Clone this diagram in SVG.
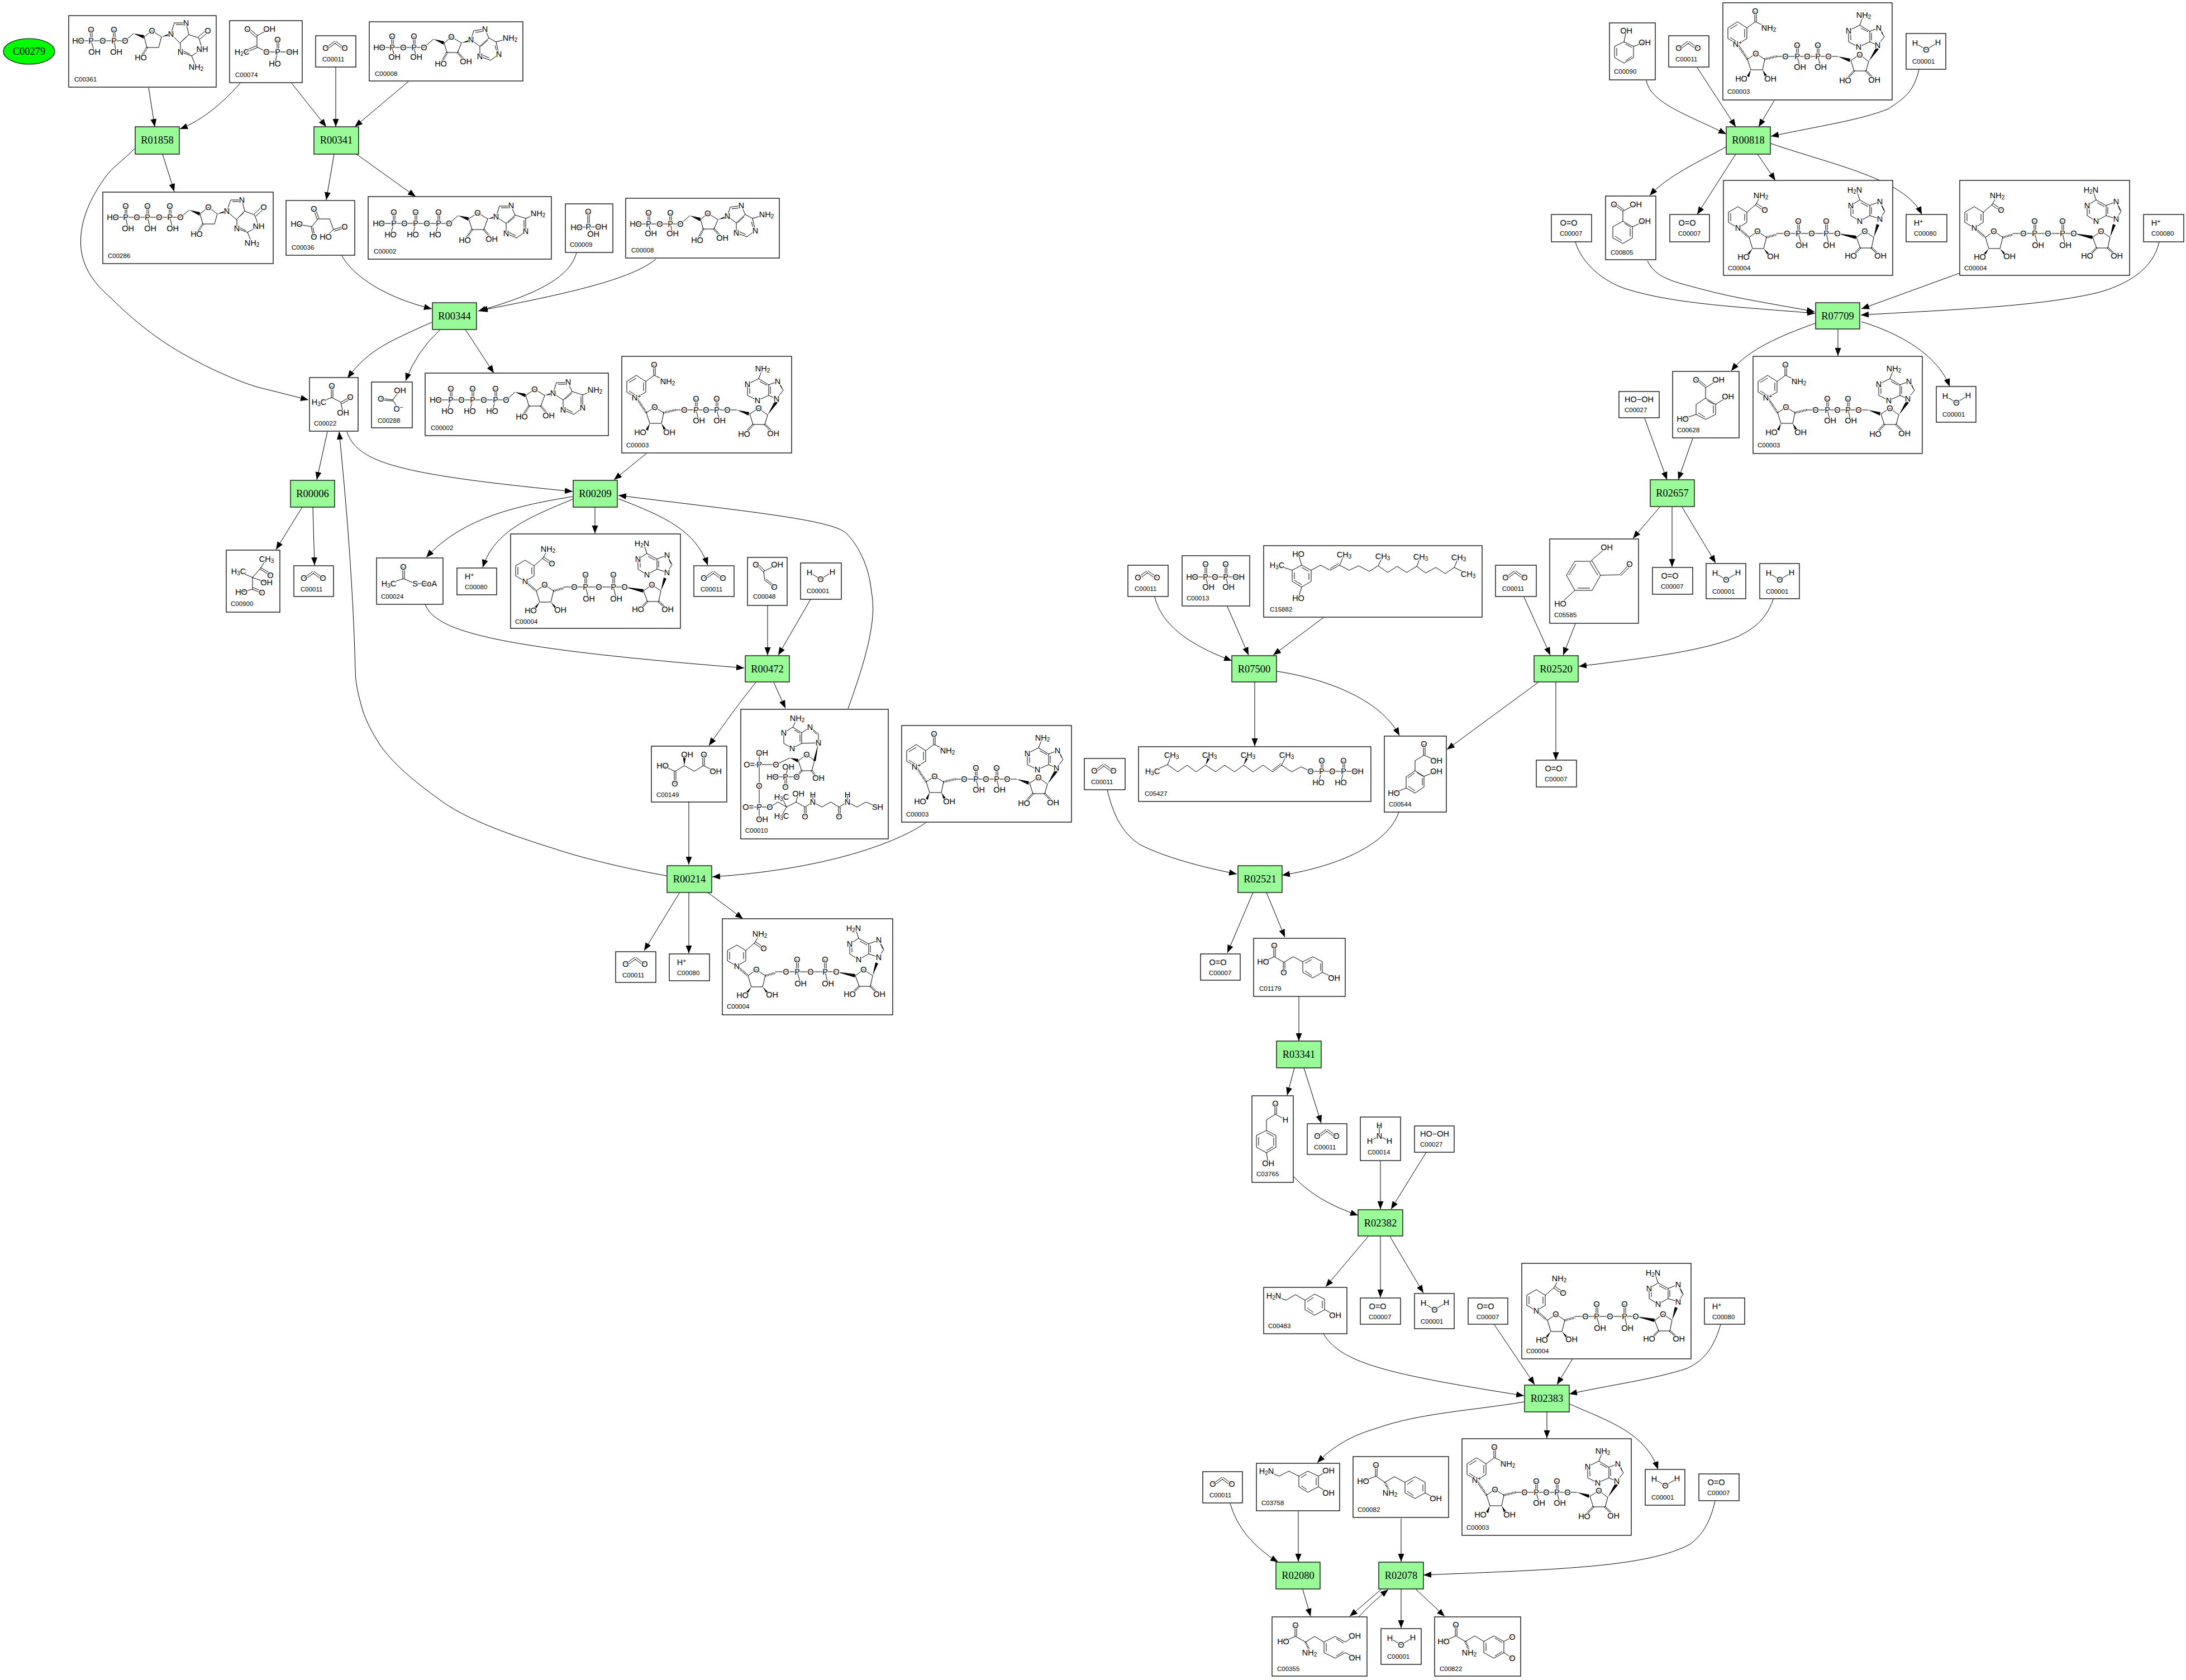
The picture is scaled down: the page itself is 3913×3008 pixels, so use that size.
<svg xmlns="http://www.w3.org/2000/svg" width="3913" height="3008" viewBox="0 0 3913 3008">
<style>
.bg{fill:#fff}
.e path{fill:none;stroke:#000;stroke-width:1;marker-end:url(#arr)}
.r rect{fill:#98fb98;stroke:#000;stroke-width:1.3}
.r text,.o text{font:18.5px "Liberation Serif",serif;text-anchor:middle;fill:#000}
.o ellipse{fill:#0f0;stroke:#000;stroke-width:1.2}
.c rect{fill:#fff;stroke:#000;stroke-width:1.3}
.c>text{font:11.5px "Liberation Sans",sans-serif;fill:#000}
.m path{fill:none;stroke:#000;stroke-width:1}
.m path.h{stroke-width:4;stroke-dasharray:1 1.6}
.m polygon{fill:#000}
.m text{font:14.5px "Liberation Sans",sans-serif;text-anchor:middle;dominant-baseline:central;fill:#000;paint-order:stroke;stroke:#fff;stroke-width:2.5px}
.m tspan{font-size:10px}
</style>
<defs>
<marker id="arr" markerUnits="userSpaceOnUse" markerWidth="14" markerHeight="11" refX="14" refY="5.5" orient="auto"><path d="M0 0L14 5.5L0 11Z" fill="#000"/></marker>
<g id="s-nad" class="m">
<path d="M57 15V34M60 15V34M58 34L43 45M58 34L82 45M26 34L43 45V64L26 74L9 64V45ZM13 47L26 39M39 47V62M13 62L24 69M59 91L44 101L50 120H71L75 101ZM96 96H206M132 76V96M135 76V96M133 96L138 115M169 76V96M172 76V96M170 96L175 115M245 93L229 103L235 122H256L261 105ZM277 76L289 61L279 45L263 51V70L277 76M263 70L243 79L225 70V50L245 40L263 51M245 40L252 22M229 53V67M247 45L260 52M266 54V67M283 48L287 58"/>
<path class="h" d="M26 74L44 101M75 101L96 96M235 122L224 134M256 122L268 134"/>
<polygon points="50,120 43,131 47,133"/><polygon points="71,120 75,132 79,130"/><polygon points="206,96 228,100 227,106"/><polygon points="261,105 274,80 279,83"/>
<text x="58" y="15">O</text><text x="82" y="45">NH<tspan dy="3">2</tspan></text><text x="26" y="74">N<tspan dy="-3">+</tspan></text><text x="59" y="91">O</text><text x="33" y="136">HO</text><text x="85" y="136">OH</text><text x="112" y="96">O</text><text x="133" y="96">P</text><text x="151" y="96">O</text><text x="170" y="96">P</text><text x="189" y="96">O</text><text x="133" y="76">O</text><text x="138" y="115">OH</text><text x="170" y="76">O</text><text x="175" y="115">OH</text><text x="245" y="93">O</text><text x="219" y="139">HO</text><text x="271" y="138">OH</text><text x="277" y="76">N</text><text x="279" y="45">N</text><text x="243" y="79">N</text><text x="225" y="50">N</text><text x="252" y="22">NH<tspan dy="3">2</tspan></text>
</g>
<g id="s-nadh" class="m">
<path d="M67 27L58 43M57 44L73 55M59 41L75 52M58 43L42 57M42 57L26 47L9 57V75L26 85L42 75ZM13 59V73M38 60V72M61 91L46 102L52 122H72L77 102ZM95 95H204M133 73V95M136 73V95M183 73V95M186 73V95M134 95L140 116M184 95L189 116M253 91L238 102L245 121H265L269 102ZM280 69L289 55L280 38L262 45V63L280 69M262 63L244 73L228 63V45L244 35L262 45M244 35L238 17M232 48V60M246 40L259 47M265 48V60M282 42L287 54"/>
<path class="h" d="M26 85L46 102M77 102L95 97M245 121L234 132M265 121L277 132"/>
<polygon points="52,122 41,133 45,135"/><polygon points="72,122 83,132 80,135"/><polygon points="204,95 238,99 237,105"/><polygon points="269,102 274,78 279,80"/>
<text x="67" y="27">NH<tspan dy="3">2</tspan></text><text x="74" y="53">O</text><text x="26" y="85">N</text><text x="61" y="91">O</text><text x="36" y="137">HO</text><text x="89" y="136">OH</text><text x="114" y="95">O</text><text x="134" y="95">P</text><text x="158" y="95">O</text><text x="184" y="95">P</text><text x="204" y="95">O</text><text x="134" y="73">O</text><text x="140" y="116">OH</text><text x="184" y="73">O</text><text x="189" y="116">OH</text><text x="253" y="91">O</text><text x="228" y="135">HO</text><text x="281" y="135">OH</text><text x="280" y="69">N</text><text x="280" y="38">N</text><text x="244" y="73">N</text><text x="228" y="45">N</text><text x="235" y="17">H<tspan dy="3">2</tspan><tspan dy="-3" style="font-size:14.5px">N</tspan></text>
</g>
<g id="s-adp" class="m">
<path d="M18 46H98M98 46L115 31M40 26V46M43 26V46M79 26V46M82 26V46M41 46L45 63M80 46L84 63M147 27L134 38L139 55H158L165 38ZM182 32L187 16L207 13M190 19L205 17M207 13L214 29L198 44L182 32M214 29L227 36L232 58L217 69L198 62V44M212 33L200 44M227 36L252 29M225 42L229 56M204 60L215 65"/>
<path class="h" d="M139 55L130 72M158 55L170 68"/>
<polygon points="115,31 134,35 133,41"/><polygon points="165,38 182,31 183,35"/>
<text x="18" y="46">HO</text><text x="41" y="46">P</text><text x="61" y="46">O</text><text x="80" y="46">P</text><text x="98" y="46">O</text><text x="41" y="26">O</text><text x="80" y="26">O</text><text x="45" y="63">OH</text><text x="84" y="63">OH</text><text x="147" y="27">O</text><text x="128" y="75">HO</text><text x="173" y="71">OH</text><text x="182" y="32">N</text><text x="207" y="13">N</text><text x="252" y="29">NH<tspan dy="3">2</tspan></text><text x="232" y="58">N</text><text x="198" y="62">N</text>
</g>
<g id="s-atp" class="m">
<path d="M19 48H145M145 48L161 34M45 28V48M48 28V48M84 28V48M87 28V48M125 28V48M128 28V48M46 48L40 68M85 48L80 68M126 48L120 68M196 29L180 40L186 59H207L214 40ZM229 36L235 17H256L263 33L247 48L229 36M238 20H254M263 33L282 39V62L266 74L247 66V48M263 36L250 47M279 42V60M252 64L264 70M282 39L304 30"/>
<path class="h" d="M186 59L176 74M207 59L218 72"/>
<polygon points="161,34 180,37 179,43"/><polygon points="214,40 229,34 230,38"/>
<text x="19" y="48">HO</text><text x="46" y="48">P</text><text x="65" y="48">O</text><text x="85" y="48">P</text><text x="105" y="48">O</text><text x="126" y="48">P</text><text x="145" y="48">O</text><text x="46" y="28">O</text><text x="85" y="28">O</text><text x="126" y="28">O</text><text x="40" y="68">HO</text><text x="80" y="68">HO</text><text x="120" y="68">HO</text><text x="196" y="29">O</text><text x="173" y="78">HO</text><text x="221" y="76">OH</text><text x="229" y="36">N</text><text x="256" y="16">N</text><text x="304" y="30">NH<tspan dy="3">2</tspan></text><text x="282" y="62">N</text><text x="247" y="66">N</text>
</g>
<g id="s-c00361" class="m">
<path d="M17 45H101M101 45L116 32M39 25V45M42 25V45M80 25V45M83 25V45M40 45L46 65M81 45L85 65M149 27L135 38L140 57H161L166 38ZM183 33L189 13H210L215 34L199 49L183 33M192 16H208M215 34L233 40L239 60L220 72L200 65V49M232 38L247 25M235 42L250 29M220 72L228 92M212 37L201 47M204 63L217 69"/>
<path class="h" d="M140 57L131 72"/>
<polygon points="116,32 135,35 134,41"/><polygon points="166,38 183,31 184,35"/>
<text x="17" y="45">HO</text><text x="40" y="45">P</text><text x="61" y="45">O</text><text x="81" y="45">P</text><text x="101" y="45">O</text><text x="40" y="25">O</text><text x="81" y="25">O</text><text x="46" y="65">OH</text><text x="85" y="65">OH</text><text x="149" y="27">O</text><text x="129" y="75">HO</text><text x="183" y="33">N</text><text x="210" y="13">N</text><text x="249" y="27">O</text><text x="239" y="60">NH</text><text x="200" y="65">N</text><text x="228" y="92">NH<tspan dy="3">2</tspan></text>
</g>
<g id="s-c00286" class="m">
<path d="M18 45H139M139 45L155 32M40 25V45M43 25V45M79 25V45M82 25V45M119 25V45M122 25V45M41 45L45 65M80 45L85 65M120 45L125 65M189 27L174 39L179 57H200L205 39ZM222 34L229 14H249L254 34L239 49L222 34M232 17H247M254 34L272 41L279 61L259 72L240 65V49M271 39L286 25M274 43L289 29M259 72L267 91M252 37L241 47M244 63L256 69"/>
<path class="h" d="M179 57L170 72"/>
<polygon points="155,32 174,36 173,42"/><polygon points="205,39 222,32 223,36"/>
<text x="18" y="45">HO</text><text x="41" y="45">P</text><text x="61" y="45">O</text><text x="80" y="45">P</text><text x="101" y="45">O</text><text x="120" y="45">P</text><text x="139" y="45">O</text><text x="41" y="25">O</text><text x="80" y="25">O</text><text x="120" y="25">O</text><text x="45" y="65">OH</text><text x="85" y="65">OH</text><text x="125" y="65">OH</text><text x="189" y="27">O</text><text x="168" y="75">HO</text><text x="222" y="34">N</text><text x="249" y="14">N</text><text x="288" y="27">O</text><text x="279" y="61">NH</text><text x="240" y="65">N</text><text x="267" y="91">NH<tspan dy="3">2</tspan></text>
</g>
<g id="s-co2" class="m"><path d="M18 22L34 10M21 24L36 13M52 22L36 10M49 24L34 13"/><text x="18" y="22">O</text><text x="52" y="22">O</text></g>
<g id="s-h2o" class="m"><path d="M16 17L36 29L57 16"/><text x="16" y="17">H</text><text x="36" y="29">O</text><text x="57" y="16">H</text></g>
<g id="s-o2" class="m"><text x="31" y="15">O=O</text></g>
<g id="s-h2o2" class="m"><text x="36" y="14">HO−OH</text></g>
<g id="s-hp" class="m"><text x="22" y="15">H<tspan dy="-3">+</tspan></text></g>
</defs>
<rect class="bg" width="3913" height="3008"/>
<g id="connectors" class="e">
<path d="M266 157L277 227"/>
<path d="M430 149Q376 210 322 231"/>
<path d="M522 149L584 227"/>
<path d="M601 120V227"/>
<path d="M731 146L635 227"/>
<path d="M241 266C222 286 200 300 188 318C165 350 148 385 145 420C140 470 165 505 199 534C240 575 285 610 332 636C375 660 420 680 457 692L552 716"/>
<path d="M291 276L312 343"/>
<path d="M598 276L584 358"/>
<path d="M638 276L744 352"/>
<path d="M612 458C630 490 680 530 773 553"/>
<path d="M1032 452C1020 500 950 530 856 557"/>
<path d="M1174 464C1130 500 1020 525 859 556"/>
<path d="M773 577C700 610 660 625 622 677"/>
<path d="M788 590Q745 630 726 682"/>
<path d="M833 590L884 668"/>
<path d="M586 773L567 859"/>
<path d="M621 773C640 830 720 850 1025 880"/>
<path d="M1157 812L1099 859"/>
<path d="M541 908L494 984"/>
<path d="M560 908L563 1012"/>
<path d="M1025 889C930 905 830 925 763 998"/>
<path d="M1025 894C950 925 885 950 864 1016"/>
<path d="M1065 908V955"/>
<path d="M1107 893C1190 925 1245 950 1267 1012"/>
<path d="M1518 1269C1550 1180 1570 1110 1560 1060C1555 1010 1535 975 1515 955C1490 930 1330 915 1107 887"/>
<path d="M761 1082C780 1130 880 1160 1332 1196"/>
<path d="M1374 1084V1173"/>
<path d="M1451 1073L1393 1173"/>
<path d="M1353 1222C1340 1237 1300 1290 1269 1335"/>
<path d="M1385 1222L1406 1268"/>
<path d="M1233 1436V1548"/>
<path d="M1657 1473C1620 1500 1500 1555 1275 1570"/>
<path d="M1193 1568C1120 1555 1060 1540 1019 1528C930 1500 850 1475 794 1437C750 1405 710 1375 681 1335C665 1310 655 1290 649 1271C640 1240 636 1220 636 1198C632 1050 620 900 607 773"/>
<path d="M1216 1599L1153 1702"/>
<path d="M1233 1598V1707"/>
<path d="M1267 1598L1330 1645"/>
<path d="M2067 1069C2080 1120 2130 1155 2205 1183"/>
<path d="M2197 1086L2235 1173"/>
<path d="M2370 1105L2279 1173"/>
<path d="M2246 1221V1336"/>
<path d="M2286 1202C2370 1215 2470 1250 2505 1317"/>
<path d="M2728 1069L2775 1173"/>
<path d="M2820 1117L2798 1173"/>
<path d="M3174 1073C3160 1115 3130 1130 3110 1140C3050 1165 2950 1178 2826 1193"/>
<path d="M2753 1222L2590 1342"/>
<path d="M2785 1221V1361"/>
<path d="M1982 1414C1995 1470 2015 1495 2040 1512C2085 1535 2150 1552 2214 1565"/>
<path d="M2504 1454C2485 1510 2400 1550 2295 1567"/>
<path d="M2243 1598L2197 1706"/>
<path d="M2267 1598L2300 1678"/>
<path d="M2325 1784V1864"/>
<path d="M2317 1912L2304 1961"/>
<path d="M2334 1912L2365 2011"/>
<path d="M2316 2107Q2355 2150 2431 2176"/>
<path d="M2471 2079V2165"/>
<path d="M2553 2063L2490 2165"/>
<path d="M2449 2214L2373 2304"/>
<path d="M2471 2213V2323"/>
<path d="M2488 2214L2548 2315"/>
<path d="M2369 2388C2400 2440 2480 2460 2728 2499"/>
<path d="M2675 2372L2747 2479"/>
<path d="M2815 2433L2787 2479"/>
<path d="M3080 2371C3065 2425 3040 2440 3020 2450C2960 2470 2880 2480 2809 2496"/>
<path d="M2728 2510C2640 2525 2540 2530 2465 2557C2420 2570 2385 2590 2358 2619"/>
<path d="M2769 2528V2575"/>
<path d="M2810 2514C2880 2545 2945 2565 2968 2631"/>
<path d="M2324 2706V2796"/>
<path d="M2508 2719V2796"/>
<path d="M3070 2688C3060 2730 3045 2750 3025 2765C2950 2805 2800 2810 2548 2820"/>
<path d="M2202 2692Q2220 2755 2288 2797"/>
<path d="M2332 2846L2346 2894"/>
<path d="M2472 2846L2416 2894"/>
<path d="M2432 2895Q2455 2870 2485 2846"/>
<path d="M2508 2845V2915"/>
<path d="M2535 2846L2586 2894"/>
<path d="M2947 144C2955 185 3020 205 3090 240"/>
<path d="M3038 121L3107 227"/>
<path d="M3176 180L3148 227"/>
<path d="M3435 125C3425 165 3410 175 3380 195C3330 215 3260 225 3170 244"/>
<path d="M3090 263C3040 290 2985 315 2953 350"/>
<path d="M3107 276L3038 384"/>
<path d="M3146 276L3178 323"/>
<path d="M3170 257C3280 295 3410 320 3440 384"/>
<path d="M2820 433C2830 470 2870 505 2913 518C3000 545 3120 550 3249 561"/>
<path d="M2949 467C2965 500 3000 505 3047 518C3110 535 3180 545 3248 558"/>
<path d="M3508 489L3332 553"/>
<path d="M3865 433C3855 480 3810 510 3751 525C3640 550 3480 555 3331 564"/>
<path d="M3249 579C3190 600 3130 625 3099 664"/>
<path d="M3290 590V637"/>
<path d="M3332 576C3410 600 3470 640 3490 692"/>
<path d="M2944 749L2984 859"/>
<path d="M3030 785L3004 859"/>
<path d="M2971 908L2923 964"/>
<path d="M2993 908V1015"/>
<path d="M3011 908L3071 1008"/>
</g>
<g id="C00279" class="o"><ellipse cx="52" cy="92" rx="46" ry="23"/><text x="52" y="98">C00279</text></g>
<g id="R01858" class="r"><rect x="242" y="227" width="79" height="49"/><text x="281.5" y="257">R01858</text></g>
<g id="R00341" class="r"><rect x="562" y="227" width="80" height="49"/><text x="602" y="257">R00341</text></g>
<g id="R00344" class="r"><rect x="774" y="542" width="79" height="48"/><text x="813.500" y="572">R00344</text></g>
<g id="R00006" class="r"><rect x="520" y="860" width="79" height="48"/><text x="559.500" y="890">R00006</text></g>
<g id="R00209" class="r"><rect x="1026" y="860" width="79" height="48"/><text x="1065.500" y="890">R00209</text></g>
<g id="R00472" class="r"><rect x="1334" y="1174" width="79" height="47"/><text x="1373.500" y="1204">R00472</text></g>
<g id="R00214" class="r"><rect x="1194" y="1550" width="80" height="48"/><text x="1234" y="1580">R00214</text></g>
<g id="R07500" class="r"><rect x="2205" y="1174" width="80" height="47"/><text x="2245" y="1204">R07500</text></g>
<g id="R02520" class="r"><rect x="2746" y="1174" width="79" height="47"/><text x="2785.500" y="1204">R02520</text></g>
<g id="R02521" class="r"><rect x="2216" y="1550" width="79" height="48"/><text x="2255.500" y="1580">R02521</text></g>
<g id="R03341" class="r"><rect x="2285" y="1864" width="80" height="48"/><text x="2325" y="1894">R03341</text></g>
<g id="R02382" class="r"><rect x="2431" y="2166" width="80" height="47"/><text x="2471" y="2196">R02382</text></g>
<g id="R02383" class="r"><rect x="2729" y="2480" width="80" height="48"/><text x="2769" y="2510">R02383</text></g>
<g id="R02080" class="r"><rect x="2284" y="2797" width="79" height="48"/><text x="2323.500" y="2827">R02080</text></g>
<g id="R02078" class="r"><rect x="2468" y="2797" width="80" height="48"/><text x="2508" y="2827">R02078</text></g>
<g id="R00818" class="r"><rect x="3090" y="227" width="79" height="49"/><text x="3129.500" y="257">R00818</text></g>
<g id="R07709" class="r"><rect x="3250" y="542" width="79" height="47"/><text x="3289.500" y="572">R07709</text></g>
<g id="R02657" class="r"><rect x="2954" y="859" width="79" height="48"/><text x="2993.500" y="889">R02657</text></g>

<g id="C00361" class="c" transform="translate(123 28)"><rect width="264" height="128"/><use href="#s-c00361"/><text x="10" y="118">C00361</text></g>
<g id="C00074" class="c" transform="translate(411 37)"><rect width="130" height="111"/><g class="m"><path d="M31 15L48 30M34 13L50 27M49 27L71 15M49 27V47M22 56L48 45M24 59L50 48M49 47L66 56H112M85 34V56M88 34V56M86 56L81 77"/><text x="32" y="15">O</text><text x="71" y="15">OH</text><text x="22" y="56">H<tspan dy="3">2</tspan><tspan dy="-3" style="font-size:14.5px">C</tspan></text><text x="66" y="56">O</text><text x="86" y="56">P</text><text x="112" y="56">OH</text><text x="86" y="34">O</text><text x="81" y="77">HO</text></g><text x="10" y="101">C00074</text></g>
<g id="C00011_1" class="c" transform="translate(565 64)"><rect width="72" height="56"/><use href="#s-co2"/><text x="12" y="46">C00011</text></g>
<g id="C00008_1" class="c" transform="translate(661 39)"><rect width="275" height="106"/><use href="#s-adp"/><text x="10" y="97">C00008</text></g>
<g id="C00286" class="c" transform="translate(184 344)"><rect width="305" height="128"/><use href="#s-c00286"/><text x="9" y="118">C00286</text></g>
<g id="C00036" class="c" transform="translate(512 359)"><rect width="123" height="98"/><g class="m"><path d="M49 15L56 34M52 14L59 32M57 33H78L85 52M85 52L104 46M86 55L105 49M57 33L46 47L19 42M45 47L49 65M48 48L52 65M85 52L71 65"/><text x="50" y="15">O</text><text x="105" y="47">O</text><text x="19" y="42">HO</text><text x="50" y="65">O</text><text x="71" y="65">HO</text></g><text x="10" y="88">C00036</text></g>
<g id="C00002_1" class="c" transform="translate(659 352)"><rect width="328" height="112"/><use href="#s-atp"/><text x="10" y="102">C00002</text></g>
<g id="C00009" class="c" transform="translate(1012 365)"><rect width="85" height="87"/><g class="m"><path d="M40 14V41M43 14V41M20 42L64 41M41 41L50 54"/><text x="41" y="14">O</text><text x="41" y="41">P</text><text x="20" y="42">HO</text><text x="64" y="41">OH</text><text x="50" y="54">OH</text></g><text x="8" y="77">C00009</text></g>
<g id="C00008_2" class="c" transform="translate(1120 355)"><rect width="275" height="107"/><use href="#s-adp"/><text x="10" y="97">C00008</text></g>
<g id="C00002_2" class="c" transform="translate(761 668)"><rect width="328" height="112"/><use href="#s-atp"/><text x="10" y="102">C00002</text></g>
<g id="C00022" class="c" transform="translate(554 676)"><rect width="87" height="96"/><g class="m"><path d="M39 15V36M42 15V36M40 36L17 44M40 36L56 44L60 63M56 44L73 35M58 47L74 38"/><text x="40" y="15">O</text><text x="17" y="44">H<tspan dy="3">3</tspan><tspan dy="-3" style="font-size:14.5px">C</tspan></text><text x="73" y="35">O</text><text x="60" y="63">OH</text></g><text x="8" y="86">C00022</text></g>
<g id="C00288" class="c" transform="translate(665 684)"><rect width="73" height="82"/><g class="m"><path d="M51 15L38 32L48 48M38 32L17 29M38 34L17 32"/><text x="51" y="15">OH</text><text x="17" y="30">O</text><text x="48" y="48">O<tspan dy="-3">−</tspan></text></g><text x="11" y="73">C00288</text></g>
<g id="C00003_1" class="c" transform="translate(1113 638)"><rect width="304" height="173"/><use href="#s-nad"/><text x="8" y="163">C00003</text></g>
<g id="C00900" class="c" transform="translate(405 985)"><rect width="96" height="111"/><g class="m"><path d="M72 16L60 34L47 49L22 38M60 34L79 45M61 31L80 42M47 49L72 58M47 49V70L27 75M46 70L64 77M48 67L65 74"/><text x="72" y="16">CH<tspan dy="3">3</tspan></text><text x="79" y="45">O</text><text x="22" y="38">H<tspan dy="3">3</tspan><tspan dy="-3" style="font-size:14.5px">C</tspan></text><text x="72" y="58">OH</text><text x="27" y="75">HO</text><text x="64" y="76">O</text></g><text x="8" y="100">C00900</text></g>
<g id="C00011_2" class="c" transform="translate(526 1013)"><rect width="71" height="55"/><use href="#s-co2"/><text x="12" y="46">C00011</text></g>
<g id="C00024" class="c" transform="translate(674 999)"><rect width="119" height="83"/><g class="m"><path d="M47 16V37M50 16V37M48 37L22 46M48 37L69 46H94"/><text x="48" y="16">O</text><text x="22" y="46">H<tspan dy="3">3</tspan><tspan dy="-3" style="font-size:14.5px">C</tspan></text><text x="69" y="46">S</text><text x="94" y="46">CoA</text></g><text x="8" y="73">C00024</text></g>
<g id="C00080_1" class="c" transform="translate(818 1017)"><rect width="71" height="48"/><use href="#s-hp"/><text x="14" y="38">C00080</text></g>
<g id="C00004_1" class="c" transform="translate(914 956)"><rect width="304" height="169"/><use href="#s-nadh"/><text x="8" y="161">C00004</text></g>
<g id="C00011_3" class="c" transform="translate(1242 1013)"><rect width="72" height="55"/><use href="#s-co2"/><text x="12" y="46">C00011</text></g>
<g id="C00048" class="c" transform="translate(1338 998)"><rect width="71" height="86"/><g class="m"><path d="M15 12L29 27M17 10L31 24M29 25L53 13M29 25L31 41M31 41L48 54M33 39L49 51"/><text x="15" y="13">O</text><text x="53" y="13">OH</text><text x="48" y="53">O</text></g><text x="10" y="74">C00048</text></g>
<g id="C00001_1" class="c" transform="translate(1433 1008)"><rect width="73" height="65"/><use href="#s-h2o"/><text x="11" y="54">C00001</text></g>
<g id="C00149" class="c" transform="translate(1166 1336)"><rect width="135" height="100"/><g class="m"><path d="M20 35L42 45L59 35L77 45L93 35L115 45M41 45V67M44 45V67M92 35V15M95 35V15"/><polygon points="59,35 56,17 62,17"/><text x="20" y="35">HO</text><text x="42" y="67">O</text><text x="64" y="15">OH</text><text x="94" y="15">O</text><text x="115" y="45">OH</text></g><text x="9" y="91">C00149</text></g>
<g id="C00010" class="c" transform="translate(1326 1270)"><rect width="264" height="232"/><g class="m"><path d="M101 16L93 32L77 42V61L92 70L109 61V42L93 32M109 42L124 32L139 44V60L109 61M96 37L106 43M106 45V58M127 36L136 45M118 81L132 92L127 110H109L103 92ZM63 99L88 87M15 99H63M33 78V137M33 137V197M13 175H52M52 175L67 166L82 175L99 166L115 175L129 166L145 175L161 166L176 175L191 166L208 175L224 166L245 175M82 175L73 157M82 175L73 191M99 166L103 151M114 175V192M117 175V192M175 175V192M178 175V192M129 166V153M191 166V153M100 121H57M80 121L85 103M79 121V139M82 121V139"/><path class="h" d="M109 110L100 121M127 110L135 121"/><polygon points="139,60 130,92 134,93"/><polygon points="88,87 103,89 102,95"/><text x="101" y="16">NH<tspan dy="3">2</tspan></text><text x="77" y="42">N</text><text x="92" y="70">N</text><text x="124" y="32">N</text><text x="139" y="60">N</text><text x="118" y="81">O</text><text x="63" y="99">O</text><text x="33" y="99">P</text><text x="15" y="99">O=</text><text x="38" y="78">OH</text><text x="33" y="137">O</text><text x="33" y="175">P</text><text x="13" y="175">O=</text><text x="52" y="175">O</text><text x="38" y="197">OH</text><text x="73" y="157">H<tspan dy="3">3</tspan><tspan dy="-3" style="font-size:14.5px">C</tspan></text><text x="73" y="191">H<tspan dy="3">3</tspan><tspan dy="-3" style="font-size:14.5px">C</tspan></text><text x="103" y="151">OH</text><text x="115" y="192">O</text><text x="129" y="166">N</text><text x="129" y="153">H</text><text x="176" y="192">O</text><text x="191" y="166">N</text><text x="191" y="153">H</text><text x="245" y="175">SH</text><text x="100" y="121">O</text><text x="80" y="121">P</text><text x="57" y="121">HO</text><text x="85" y="103">OH</text><text x="80" y="139">O</text><text x="139" y="123">OH</text></g><text x="8" y="221">C00010</text></g>
<g id="C00003_2" class="c" transform="translate(1614 1299)"><rect width="304" height="173"/><use href="#s-nad"/><text x="8" y="163">C00003</text></g>
<g id="C00011_4" class="c" transform="translate(1102 1704)"><rect width="72" height="55"/><use href="#s-co2"/><text x="12" y="46">C00011</text></g>
<g id="C00080_2" class="c" transform="translate(1198 1708)"><rect width="72" height="48"/><use href="#s-hp"/><text x="14" y="38">C00080</text></g>
<g id="C00004_2" class="c" transform="translate(1293 1645)"><rect width="305" height="172"/><use href="#s-nadh"/><text x="8" y="161">C00004</text></g>

<g id="C00011_5" class="c" transform="translate(2019 1012)"><rect width="72" height="56"/><use href="#s-co2"/><text x="12" y="46">C00011</text></g>
<g id="C00013" class="c" transform="translate(2116 995)"><rect width="121" height="90"/><g class="m"><path d="M18 38H101M41 15V38M44 15V38M77 15V38M80 15V38M42 38L47 56M78 38L83 56"/><text x="18" y="38">HO</text><text x="42" y="38">P</text><text x="59" y="38">O</text><text x="78" y="38">P</text><text x="101" y="38">OH</text><text x="42" y="15">O</text><text x="78" y="15">O</text><text x="47" y="56">OH</text><text x="83" y="56">OH</text></g><text x="8" y="80">C00013</text></g>
<g id="C15882" class="c" transform="translate(2262 977)"><rect width="391" height="128"/><g class="m"><path d="M62 15L68 35L85 44V64L68 74L51 64V44L68 35M68 74L62 94M51 44L24 35M85 44L102 35L119 44L136 35L153 44L170 36L189 46L205 36L222 48L239 37L256 48L274 37L290 49L308 39L325 50L341 39L366 51M136 35L144 16M205 36L213 19M274 37L281 20M341 39L349 21M119 41L134 32M68 39L81 46M81 49V61M55 48V60M55 62L68 70"/><text x="62" y="15">HO</text><text x="24" y="35">H<tspan dy="3">3</tspan><tspan dy="-3" style="font-size:14.5px">C</tspan></text><text x="62" y="94">HO</text><text x="144" y="16">CH<tspan dy="3">3</tspan></text><text x="213" y="19">CH<tspan dy="3">3</tspan></text><text x="281" y="20">CH<tspan dy="3">3</tspan></text><text x="349" y="21">CH<tspan dy="3">3</tspan></text><text x="366" y="51">CH<tspan dy="3">3</tspan></text></g><text x="11" y="118">C15882</text></g>
<g id="C00011_6" class="c" transform="translate(2677 1012)"><rect width="73" height="56"/><use href="#s-co2"/><text x="12" y="46">C00011</text></g>
<g id="C05585" class="c" transform="translate(2774 965)"><rect width="159" height="151"/><g class="m"><path d="M102 15L75 38L91 65L76 92H45L30 65L45 40H75M91 65L125 64L143 45M127 66L145 48M45 92L19 116M50 88H72M34 65L47 45M72 42L86 65"/><text x="102" y="15">OH</text><text x="143" y="45">O</text><text x="19" y="116">HO</text></g><text x="8" y="140">C05585</text></g>
<g id="C05427" class="c" transform="translate(2038 1337)"><rect width="416" height="98"/><g class="m"><path d="M25 44L52 32L70 45L87 33L103 45L120 33L138 45L154 33L172 45L188 33L205 45L223 33L240 45L256 33L274 45L291 36L308 44H392M52 32L59 15M256 33L265 15M240 42L255 30M327 25V44M330 25V44M366 25V44M369 25V44M328 44L322 64M367 44L362 64"/><polygon points="120,33 124,17 129,19"/><polygon points="188,33 193,17 198,18"/><text x="25" y="44">H<tspan dy="3">3</tspan><tspan dy="-3" style="font-size:14.5px">C</tspan></text><text x="59" y="15">CH<tspan dy="3">3</tspan></text><text x="127" y="15">CH<tspan dy="3">3</tspan></text><text x="196" y="15">CH<tspan dy="3">3</tspan></text><text x="265" y="15">CH<tspan dy="3">3</tspan></text><text x="308" y="44">O</text><text x="328" y="44">P</text><text x="347" y="44">O</text><text x="367" y="44">P</text><text x="392" y="44">OH</text><text x="328" y="25">O</text><text x="367" y="25">O</text><text x="322" y="64">HO</text><text x="362" y="64">HO</text></g><text x="11" y="88">C05427</text></g>
<g id="C00544" class="c" transform="translate(2478 1318)"><rect width="111" height="136"/><g class="m"><path d="M70 14V34M73 14V34M71 34L93 44M71 34L55 44V62L71 72V91L55 102L39 93V73L55 62M71 72L93 63M39 93L17 102M58 65L69 72M68 75V88M43 90L55 98M42 75L54 66"/><text x="71" y="14">O</text><text x="93" y="44">OH</text><text x="93" y="63">OH</text><text x="17" y="102">HO</text></g><text x="8" y="126">C00544</text></g>
<g id="C00007_1" class="c" transform="translate(2750 1361)"><rect width="72" height="48"/><use href="#s-o2"/><text x="15" y="38">C00007</text></g>
<g id="C00011_7" class="c" transform="translate(1941 1358)"><rect width="73" height="56"/><use href="#s-co2"/><text x="12" y="46">C00011</text></g>
<g id="C00007_2" class="c" transform="translate(2149 1708)"><rect width="71" height="47"/><use href="#s-o2"/><text x="15" y="38">C00007</text></g>
<g id="C01179" class="c" transform="translate(2244 1680)"><rect width="164" height="104"/><g class="m"><path d="M36 13V33M39 13V33M37 33L17 42M37 33L54 43L71 33L88 42L106 33L123 42V61L106 71L88 61V42M53 43V61M56 43V61M123 61L144 71M92 45L104 38M120 45V58M92 58L104 67"/><text x="37" y="13">O</text><text x="17" y="42">HO</text><text x="54" y="61">O</text><text x="144" y="71">OH</text></g><text x="10" y="94">C01179</text></g>
<g id="C03765" class="c" transform="translate(2241 1962)"><rect width="74" height="155"/><g class="m"><path d="M41 14V33M44 14V33M42 33L60 43M42 33L26 43V62L43 71V92L26 102L8 92V71L26 62M26 102L29 121M12 74V89M26 66L39 73M39 75V89M26 98L38 91"/><text x="42" y="14">O</text><text x="60" y="43">H</text><text x="29" y="121">OH</text></g><text x="8" y="144">C03765</text></g>
<g id="C00011_8" class="c" transform="translate(2340 2012)"><rect width="71" height="55"/><use href="#s-co2"/><text x="12" y="46">C00011</text></g>
<g id="C00014" class="c" transform="translate(2435 2000)"><rect width="72" height="78"/><g class="m"><path d="M34 15V34L17 43M34 34L52 43"/><text x="34" y="15">H</text><text x="34" y="34">N</text><text x="17" y="43">H</text><text x="52" y="43">H</text></g><text x="13" y="67">C00014</text></g>
<g id="C00027_1" class="c" transform="translate(2532 2016)"><rect width="71" height="47"/><use href="#s-h2o2"/><text x="10" y="37">C00027</text></g>
<g id="C00483" class="c" transform="translate(2262 2305)"><rect width="149" height="83"/><g class="m"><path d="M18 15L40 23L57 13L74 23L91 12L109 21V40L91 50L74 40V23M109 40L128 50M78 26L89 18M105 24V37M78 37L89 45"/><text x="18" y="15">H<tspan dy="3">2</tspan><tspan dy="-3" style="font-size:14.5px">N</tspan></text><text x="128" y="50">OH</text></g><text x="8" y="73">C00483</text></g>
<g id="C00007_3" class="c" transform="translate(2435 2324)"><rect width="72" height="47"/><use href="#s-o2"/><text x="15" y="38">C00007</text></g>
<g id="C00001_2" class="c" transform="translate(2532 2316)"><rect width="71" height="63"/><use href="#s-h2o"/><text x="11" y="54">C00001</text></g>
<g id="C00007_4" class="c" transform="translate(2628 2324)"><rect width="71" height="47"/><use href="#s-o2"/><text x="15" y="38">C00007</text></g>
<g id="C00004_3" class="c" transform="translate(2724 2262)"><rect width="303" height="171"/><use href="#s-nadh"/><text x="8" y="161">C00004</text></g>
<g id="C00080_3" class="c" transform="translate(3051 2324)"><rect width="72" height="47"/><use href="#s-hp"/><text x="14" y="38">C00080</text></g>
<g id="C03758" class="c" transform="translate(2249 2620)"><rect width="149" height="85"/><g class="m"><path d="M18 14L41 23L58 14L76 23L92 14L111 23V42L92 52L76 42V23M111 23L129 13M111 42L129 53M80 26L90 19M107 26V39M80 40L90 47"/><text x="18" y="14">H<tspan dy="3">2</tspan><tspan dy="-3" style="font-size:14.5px">N</tspan></text><text x="129" y="13">OH</text><text x="129" y="53">OH</text></g><text x="9" y="75">C03758</text></g>
<g id="C00082" class="c" transform="translate(2422 2608)"><rect width="171" height="109"/><g class="m"><path d="M40 15V35M43 15V35M41 35L18 44M41 35L57 46L74 36L93 46L111 36L129 46V65L111 75L93 65V46M129 65L148 75M97 50L108 42M125 50V62M97 62L108 70"/><path class="h" d="M57 46L64 60"/><text x="41" y="15">O</text><text x="18" y="44">HO</text><text x="66" y="65">NH<tspan dy="3">2</tspan></text><text x="148" y="75">OH</text></g><text x="8" y="99">C00082</text></g>
<g id="C00003_3" class="c" transform="translate(2617 2576)"><rect width="303" height="173"/><use href="#s-nad"/><text x="8" y="163">C00003</text></g>
<g id="C00001_3" class="c" transform="translate(2945 2631)"><rect width="71" height="64"/><use href="#s-h2o"/><text x="11" y="54">C00001</text></g>
<g id="C00007_5" class="c" transform="translate(3041 2639)"><rect width="72" height="48"/><use href="#s-o2"/><text x="15" y="38">C00007</text></g>
<g id="C00011_9" class="c" transform="translate(2153 2635)"><rect width="71" height="56"/><use href="#s-co2"/><text x="12" y="46">C00011</text></g>
<g id="C00355" class="c" transform="translate(2277 2895)"><rect width="170" height="106"/><g class="m"><path d="M41 15V35M44 15V35M42 35L20 44M42 35L60 45L76 35L93 45L113 35L131 45L148 34M93 45V64L113 74L131 64L148 73M97 47V62M115 39L128 47M115 70L128 62"/><path class="h" d="M60 45L66 58"/><text x="42" y="15">O</text><text x="20" y="44">HO</text><text x="67" y="64">NH<tspan dy="3">2</tspan></text><text x="148" y="34">OH</text><text x="148" y="73">OH</text></g><text x="9" y="97">C00355</text></g>
<g id="C00001_4" class="c" transform="translate(2472 2916)"><rect width="72" height="64"/><use href="#s-h2o"/><text x="11" y="54">C00001</text></g>
<g id="C00822" class="c" transform="translate(2568 2895)"><rect width="154" height="106"/><g class="m"><path d="M37 14V34M40 14V34M38 34L16 44M38 34L55 44L72 34L88 44L106 34L124 44L139 36M88 44V64L106 74L124 64L139 74M124 44V64M92 47V61M108 38L121 46M108 70L121 62"/><path class="h" d="M55 44L61 58"/><text x="38" y="14">O</text><text x="16" y="44">HO</text><text x="62" y="64">NH<tspan dy="3">2</tspan></text><text x="139" y="36">O</text><text x="139" y="74">O</text></g><text x="9" y="97">C00822</text></g>

<g id="C00090" class="c" transform="translate(2881 41)"><rect width="82" height="102"/><g class="m"><path d="M30 14L26 34L43 42V62L26 72L9 62V42L26 34M43 42L63 35M29 38L40 44M13 45V59M29 68L40 60"/><text x="30" y="14">OH</text><text x="63" y="35">OH</text></g><text x="8" y="91">C00090</text></g>
<g id="C00011_10" class="c" transform="translate(2987 64)"><rect width="72" height="56"/><use href="#s-co2"/><text x="12" y="46">C00011</text></g>
<g id="C00003_4" class="c" transform="translate(3084 5)"><rect width="303" height="174"/><use href="#s-nad"/><text x="8" y="163">C00003</text></g>
<g id="C00001_5" class="c" transform="translate(3412 60)"><rect width="71" height="64"/><use href="#s-h2o"/><text x="11" y="54">C00001</text></g>
<g id="C00805" class="c" transform="translate(2874 351)"><rect width="90" height="114"/><g class="m"><path d="M14 15L31 27M16 12L33 25M31 27L54 15M31 27V45L48 55V75L31 85L13 75V55L31 45M48 55L70 45M34 49L45 56M44 58V72M17 72L29 80"/><text x="15" y="15">O</text><text x="54" y="15">OH</text><text x="70" y="45">OH</text></g><text x="9" y="105">C00805</text></g>
<g id="C00007_6" class="c" transform="translate(2989 384)"><rect width="71" height="49"/><use href="#s-o2"/><text x="15" y="38">C00007</text></g>
<g id="C00004_4" class="c" transform="translate(3085 323)"><rect width="303" height="170"/><use href="#s-nadh"/><text x="8" y="161">C00004</text></g>
<g id="C00080_4" class="c" transform="translate(3412 384)"><rect width="73" height="49"/><use href="#s-hp"/><text x="14" y="38">C00080</text></g>
<g id="C00004_5" class="c" transform="translate(3508 323)"><rect width="304" height="170"/><use href="#s-nadh"/><text x="8" y="161">C00004</text></g>
<g id="C00080_5" class="c" transform="translate(3837 384)"><rect width="72" height="49"/><use href="#s-hp"/><text x="14" y="38">C00080</text></g>
<g id="C00007_7" class="c" transform="translate(2777 384)"><rect width="72" height="49"/><use href="#s-o2"/><text x="15" y="38">C00007</text></g>
<g id="C00628" class="c" transform="translate(2994 665)"><rect width="119" height="119"/><g class="m"><path d="M41 14L59 29M43 12L60 26M59 29L82 15M59 29V48L77 59V77L59 86L42 77V59L59 48M77 59L99 45M42 77L18 85M62 52L74 59M73 61V75M46 74L58 82"/><text x="42" y="15">O</text><text x="82" y="15">OH</text><text x="99" y="45">OH</text><text x="18" y="85">HO</text></g><text x="8" y="109">C00628</text></g>
<g id="C00003_5" class="c" transform="translate(3138 638)"><rect width="303" height="174"/><use href="#s-nad"/><text x="8" y="163">C00003</text></g>
<g id="C00001_6" class="c" transform="translate(3466 692)"><rect width="71" height="64"/><use href="#s-h2o"/><text x="11" y="54">C00001</text></g>
<g id="C00027_2" class="c" transform="translate(2898 701)"><rect width="72" height="47"/><use href="#s-h2o2"/><text x="10" y="37">C00027</text></g>
<g id="C00007_8" class="c" transform="translate(2958 1016)"><rect width="72" height="48"/><use href="#s-o2"/><text x="15" y="38">C00007</text></g>
<g id="C00001_7" class="c" transform="translate(3054 1009)"><rect width="71" height="63"/><use href="#s-h2o"/><text x="11" y="54">C00001</text></g>
<g id="C00001_8" class="c" transform="translate(3150 1009)"><rect width="71" height="63"/><use href="#s-h2o"/><text x="11" y="54">C00001</text></g>
</svg>
